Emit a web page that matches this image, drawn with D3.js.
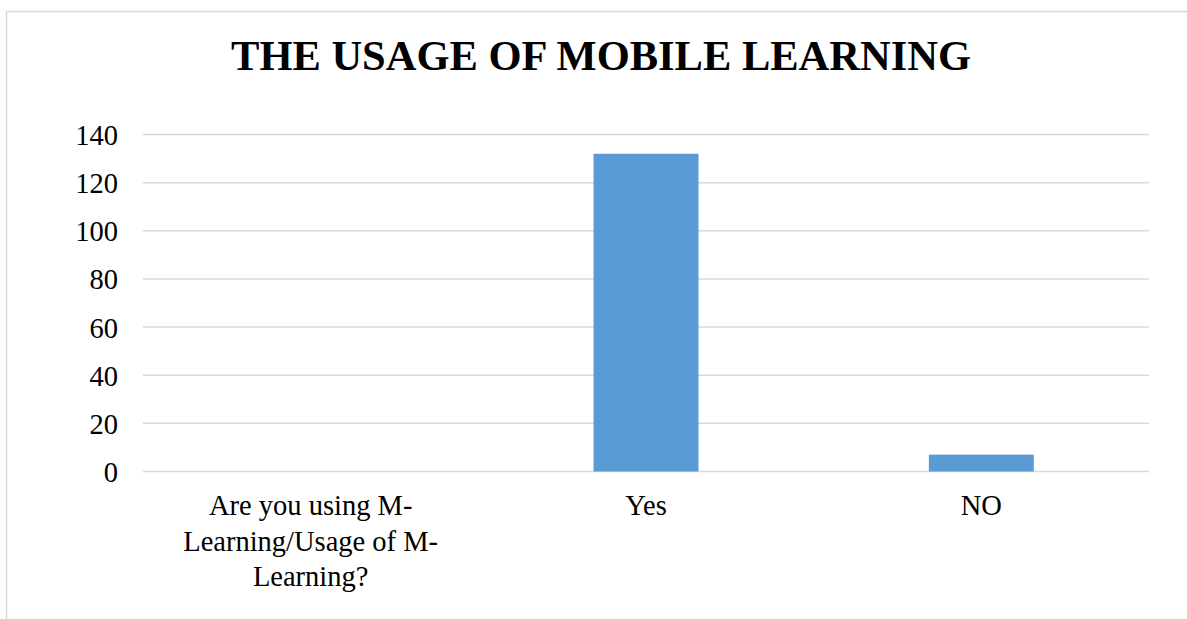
<!DOCTYPE html>
<html>
<head>
<meta charset="utf-8">
<script src="https://cdn.jsdelivr.net/npm/d3@7"></script>
<style>
  body { margin: 0; background: #fff; }
  svg { display: block; }
</style>
</head>
<body>
<div id="chart"></div>
<script>
// chart data
var categories = [
  ["Are you using M-", "Learning/Usage of M-", "Learning?"],
  ["Yes"],
  ["NO"]
];
var categoryKeys = ["q", "yes", "no"];
var values = [null, 132, 7];
var yTicks = [0, 20, 40, 60, 80, 100, 120, 140];
var title = "THE USAGE OF MOBILE LEARNING";

var width = 1187;
var height = 619;
var font = "'Liberation Serif', 'Times New Roman', serif";

var svg = d3.select("#chart")
  .append("svg")
  .attr("width", width)
  .attr("height", height);

// chart frame (cut by the image on right and bottom)
svg.append("rect")
  .attr("x", 6.5)
  .attr("y", 11.5)
  .attr("width", 1400)
  .attr("height", 1000)
  .attr("fill", "none")
  .attr("stroke", "#d9d9d9")
  .attr("stroke-width", 1.5);

svg.append("text")
  .attr("x", 601)
  .attr("y", 70)
  .attr("text-anchor", "middle")
  .style("font-family", font)
  .style("font-weight", "bold")
  .style("font-size", "42.5px")
  .text(title);

var x_scale = d3.scaleBand()
  .domain(categoryKeys)
  .range([143, 1149])
  .paddingInner(0.687)
  .paddingOuter(0.687 / 2);

var y_scale = d3.scaleLinear()
  .domain([0, 140])
  .range([471.5, 134.5]);

// gridlines
svg.append("g")
  .selectAll("line")
  .data(yTicks)
  .enter()
  .append("line")
  .attr("x1", 143)
  .attr("x2", 1149)
  .attr("y1", d => y_scale(d))
  .attr("y2", d => y_scale(d))
  .attr("stroke", "#d9d9d9")
  .attr("stroke-width", 1.5);

// y axis labels
var y_axis = d3.axisLeft(y_scale).tickValues(yTicks).tickSize(0).tickPadding(0);
var yg = svg.append("g")
  .attr("transform", "translate(118,0)")
  .call(y_axis);
yg.select(".domain").remove();
yg.selectAll("text")
  .attr("dy", "0.35em")
  .style("font-family", font)
  .style("font-size", "28.5px")
  .attr("fill", "#000");

// bars
svg.selectAll("rect.bar")
  .data(values.map((v, i) => ({ key: categoryKeys[i], value: v })).filter(d => d.value != null))
  .enter()
  .append("rect")
  .attr("class", "bar")
  .attr("x", d => x_scale(d.key))
  .attr("y", d => y_scale(d.value))
  .attr("width", x_scale.bandwidth())
  .attr("height", d => y_scale(0) - y_scale(d.value))
  .attr("fill", "#5b9bd5");

// category labels
var labels = svg.append("g")
  .selectAll("text")
  .data(categories)
  .enter()
  .append("text")
  .attr("text-anchor", "middle")
  .style("font-family", font)
  .style("font-size", "28.5px")
  .attr("fill", "#000");

labels.each(function(lines, i) {
  var cx = x_scale(categoryKeys[i]) + x_scale.bandwidth() / 2;
  d3.select(this).selectAll("tspan")
    .data(lines)
    .enter()
    .append("tspan")
    .attr("x", cx)
    .attr("y", (d, j) => 515 + j * 35.5)
    .text(d => d);
});
</script>
</body>
</html>
